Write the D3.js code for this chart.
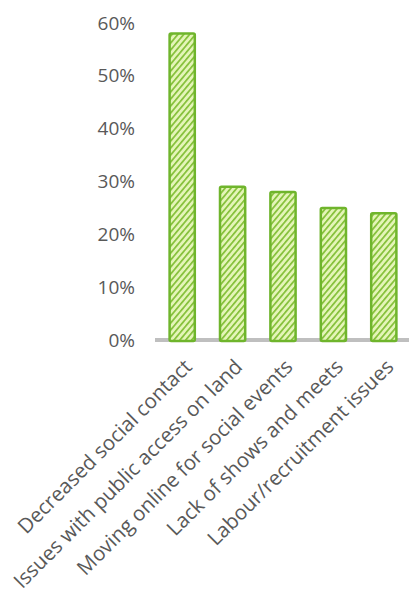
<!DOCTYPE html>
<html><head><meta charset="utf-8">
<script src="https://cdn.jsdelivr.net/npm/d3@7"></script>
<style>body{margin:0;background:#fff}svg{display:block}</style>
</head><body>
<script>
const categories = ["Decreased social contact","Issues with public access on land","Moving online for social events","Lack of shows and meets","Labour/recruitment issues"];
const values = [0.58, 0.29, 0.28, 0.25, 0.24];
const yTicks = [0, 0.1, 0.2, 0.3, 0.4, 0.5, 0.6];

const W = 409, H = 598;
const svg = d3.select("body").append("svg").attr("width", W).attr("height", H);
const defs = svg.append("defs");
const pat = defs.append("pattern").attr("id","hatch").attr("patternUnits","userSpaceOnUse")
  .attr("width",4.5).attr("height",4.5).attr("patternTransform","rotate(40)");
pat.append("rect").attr("width",4.5).attr("height",4.5).attr("fill","#e4f5b8");
pat.append("rect").attr("width",1.7).attr("height",4.5).attr("fill","#84c038");

const x = d3.scaleBand().domain(categories).range([157, 409]).paddingInner(0.5).paddingOuter(0.25);
const y = d3.scaleLinear().domain([0, 0.6]).range([340, 23]);

// y labels
svg.append("g").selectAll("text").data(yTicks).join("text")
  .attr("x", 135).attr("y", d => y(d)).attr("dy","0.35em")
  .attr("text-anchor","end").attr("font-family","Open Sans").attr("font-size",19)
  .attr("fill","#595959").text(d => d3.format(".0%")(d));

// axis line
svg.append("line").attr("x1",155).attr("x2",409).attr("y1",y(0)).attr("y2",y(0))
  .attr("stroke","#bfbfbf").attr("stroke-width",4);

// bars
svg.append("g").selectAll("rect").data(values).join("rect")
  .attr("x",(d,i)=>x(categories[i])).attr("width",x.bandwidth())
  .attr("y",d=>y(d)).attr("height",d=>y(0)-y(d)+1)
  .attr("fill","url(#hatch)").attr("stroke","#6fb52c").attr("stroke-width",2.5)
  .attr("rx",1.5);

// x labels
svg.append("g").selectAll("text").data(categories).join("text")
  .attr("transform", d => `translate(${x(d)+x.bandwidth()/2+11},${y(0)+28}) rotate(-45)`)
  .attr("text-anchor","end").attr("font-family","Open Sans").attr("font-size",20.5)
  .attr("fill","#595959").text(d => d);
</script>
</body></html>
